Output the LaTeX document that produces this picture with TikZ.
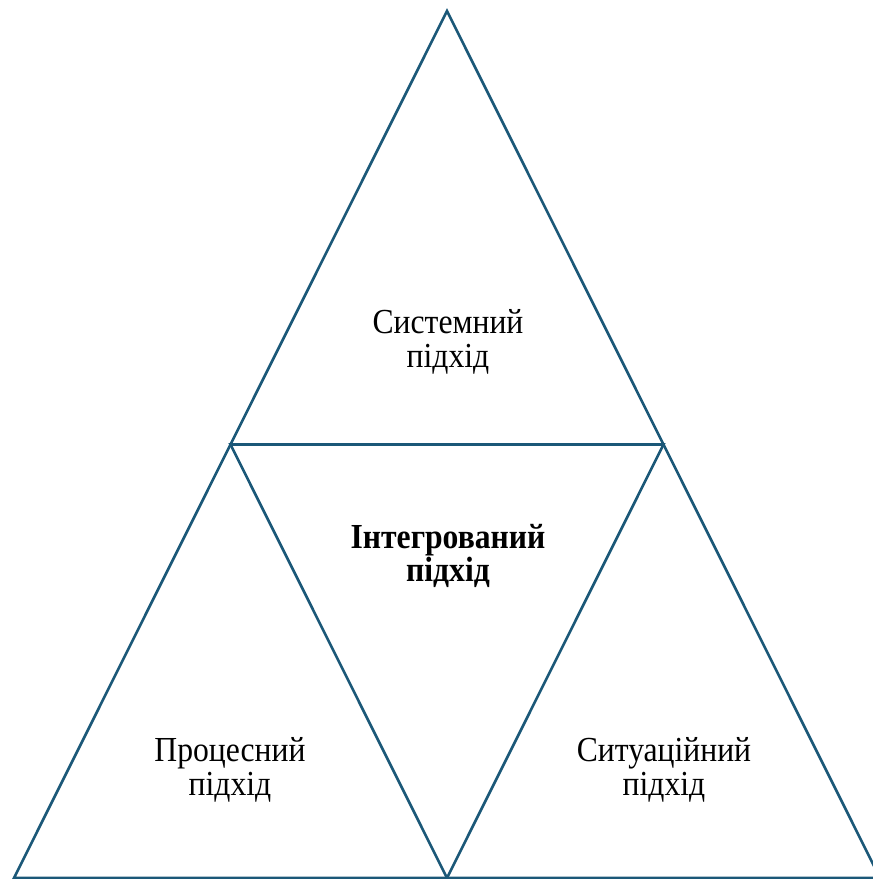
\documentclass[tikz,border=0pt]{standalone}
\usepackage{fontspec}
\setmainfont{Liberation Serif}[FakeStretch=0.9]
\definecolor{tealblue}{RGB}{27,88,120}
\begin{document}
\begin{tikzpicture}[side/.style = {draw=tealblue, line width=0.75pt}, txt/.style = {align=center, font=\fontsize{10}{9.6}\selectfont}]
	\useasboundingbox (0,0) rectangle (8.73,8.79);
	\coordinate (top) at (4.47,8.68);
	\coordinate (left) at (0.14,0.01);
	\coordinate (right) at (8.80,0.01);
	\coordinate (ml) at (2.305,4.345);
	\coordinate (mr) at (6.635,4.345);
	\coordinate (mb) at (4.47,0.01);
	\draw[side] (top) -- (left) -- (right) -- cycle;
	\draw[side] (ml) -- (mr) -- (mb) -- cycle;
	\node[txt] (sys) at (4.48,5.37) {Системний\\підхід};
	\node[txt, font=\fontsize{10}{9.6}\selectfont\bfseries] (integ) at (4.48,3.23) {Інтегрований\\підхід};
	\node[txt] (proc) at (2.30,1.09) {Процесний\\підхід};
	\node[txt] (sit) at (6.64,1.09) {Ситуаційний\\підхід};
\end{tikzpicture}
\end{document}
